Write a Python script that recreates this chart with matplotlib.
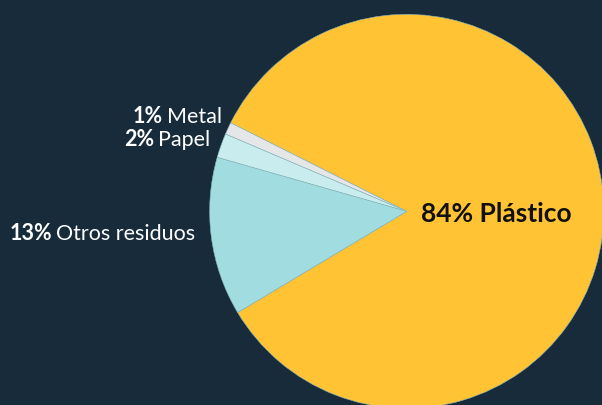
import numpy as np
import matplotlib
matplotlib.use("Agg")
import matplotlib.pyplot as plt
from matplotlib.transforms import ScaledTranslation

plt.rcParams['font.family'] = ['Lato', 'DejaVu Sans']

# data
categories = ["Plástico", "Metal", "Papel", "Otros residuos"]
shares = [84, 1, 2, 13]
colors = ["#ffc333", "#e5e6e8", "#c9ecee", "#a1dde0"]
bg = "#182b3b"

fig = plt.figure(figsize=(6.02, 4.06), dpi=100, facecolor=bg)
ax = fig.add_axes([0, 0, 1, 1])
ax.set_facecolor(bg)

wedges, _ = ax.pie(shares, colors=colors, startangle=210.9, counterclock=True,
                   radius=1.0, center=(0, 0),
                   wedgeprops=dict(linewidth=0.4, edgecolor="#8ab9bd"))

# keep the pie partly off-canvas like the original
ax.set_xlim(-2.064, 0.991)
ax.set_ylim(-0.983, 1.078)
ax.set_aspect("auto")
ax.axis("off")

# outside labels: radial distance and a small vertical nudge (points)
label_pos = {"Metal": (1.033, 2.5), "Papel": (1.059, -2.5), "Otros residuos": (1.083, 0)}
fig.canvas.draw()
for w, name, val in zip(wedges, categories, shares):
    mid = np.deg2rad((w.theta1 + w.theta2) / 2)
    if name == "Plástico":
        ax.text(0.075, -0.008, f"{val}% {name}", ha="left", va="center",
                fontsize=19, fontweight="bold", color="#111111")
        continue
    r, dy = label_pos[name]
    x, y = r * np.cos(mid), r * np.sin(mid)
    shift = ScaledTranslation(0, dy / 72, fig.dpi_scale_trans)
    t = ax.text(x, y, name, ha="right", va="baseline", fontsize=15.5,
                color="white", transform=ax.transData + shift)
    fig.canvas.draw()
    wpx = t.get_window_extent().width + 4
    ax.text(x, y, f"{val}%", ha="right", va="baseline", fontsize=15.5,
            fontweight="bold", color="white",
            transform=ax.transData + shift + ScaledTranslation(-wpx / fig.dpi, 0, fig.dpi_scale_trans))

fig.savefig("out.png", dpi=100, facecolor=bg)
